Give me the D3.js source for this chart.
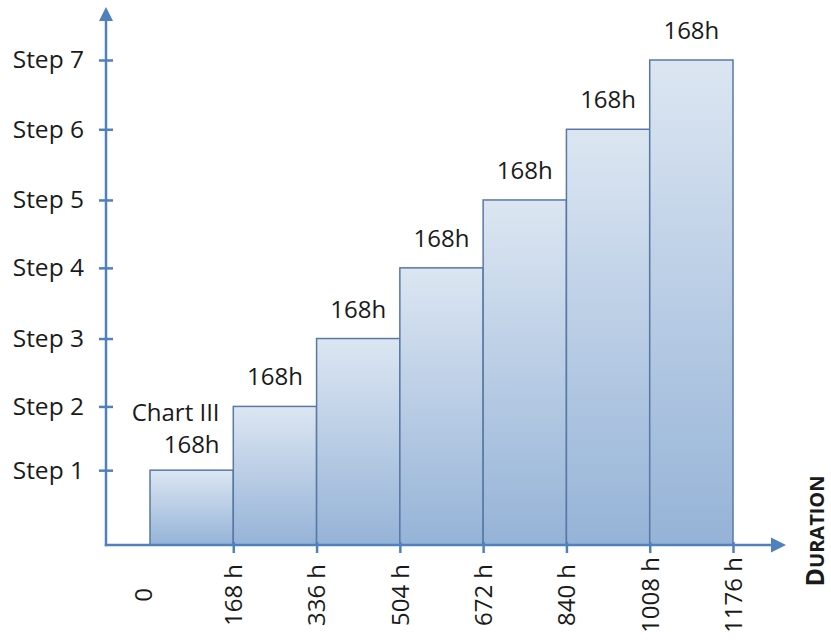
<!DOCTYPE html>
<html>
<head>
<meta charset="utf-8">
<script src="https://cdn.jsdelivr.net/npm/d3@7"></script>
<style>
  body { margin: 0; background: #fff; }
  svg { display: block; font-family: "Open Sans", sans-serif; }
  text { fill: #1a1a1a; }
</style>
</head>
<body>
<svg id="chart" width="831" height="644"></svg>
<script>
// step levels (bar heights), one per step
var stepNames = ["Step 1", "Step 2", "Step 3", "Step 4", "Step 5", "Step 6", "Step 7"];
var stepLevels = [1.08, 2, 2.98, 4, 4.98, 6, 7];
// each step lasts 168 h
var durations = [168, 168, 168, 168, 168, 168, 168];
var durationLabels = ["168h", "168h", "168h", "168h", "168h", "168h", "168h"];
var xTicks = [0, 168, 336, 504, 672, 840, 1008, 1176];
var firstNote = "Chart III";

var svg = d3.select("#chart");
var axisColor = "#4f81bd";
var fontSize = 24;

// scales
var x = d3.scaleLinear().domain([0, 1176]).range([150, 733]);
var y = d3.scaleLinear().domain([0, 7]).range([545, 60]);

// build bars from durations (cumulative start / end)
var bars = [];
var t = 0;
durations.forEach(function(d, i) {
  bars.push({ start: t, end: t + d, level: stepLevels[i], label: durationLabels[i] });
  t += d;
});

// gradient per bar
var defs = svg.append("defs");
var grad = defs.append("linearGradient")
  .attr("id", "barGrad")
  .attr("x1", 0).attr("y1", 0).attr("x2", 0).attr("y2", 1);
grad.append("stop").attr("offset", "0%").attr("stop-color", "#dce6f2");
grad.append("stop").attr("offset", "100%").attr("stop-color", "#95b3d7");

svg.selectAll("rect.bar")
  .data(bars)
  .enter().append("rect")
  .attr("class", "bar")
  .attr("x", function(d) { return x(d.start); })
  .attr("y", function(d) { return y(d.level); })
  .attr("width", function(d) { return x(d.end) - x(d.start); })
  .attr("height", function(d) { return y(0) - y(d.level); })
  .attr("fill", "url(#barGrad)")
  .attr("stroke", "#5878a6")
  .attr("stroke-width", 1.5);

// labels above bars
svg.selectAll("text.dur")
  .data(bars)
  .enter().append("text")
  .attr("class", "dur")
  .attr("x", function(d) { return (x(d.start) + x(d.end)) / 2; })
  .attr("y", function(d, i) { return y(d.level) - (i === 0 ? 17 : 21); })
  .attr("text-anchor", "middle")
  .attr("font-size", fontSize)
  .text(function(d) { return d.label; });

// note above the first bar, right edge lined up with its label
var firstLabel = svg.select("text.dur").node();
var fb = firstLabel.getBBox();
svg.append("text")
  .attr("x", fb.x + fb.width)
  .attr("y", y(bars[0].level) - 49)
  .attr("text-anchor", "end")
  .attr("font-size", fontSize)
  .text(firstNote);

// y axis
var yAxis = d3.axisLeft(y)
  .tickValues(stepLevels)
  .tickFormat(function(d, i) { return stepNames[i]; });

var gy = svg.append("g")
  .attr("transform", "translate(106,0)")
  .call(yAxis);
gy.select(".domain").remove();
gy.selectAll(".tick line")
  .attr("x1", -7).attr("x2", 7)
  .attr("stroke", axisColor).attr("stroke-width", 2.5);
gy.selectAll(".tick text")
  .attr("x", -22)
  .attr("font-family", "Open Sans, sans-serif")
  .attr("font-size", fontSize + 0.5)
  .attr("fill", "#1a1a1a");

// x axis
var xAxis = d3.axisBottom(x)
  .tickValues(xTicks)
  .tickFormat(function(d) { return d === 0 ? "0" : d + " h"; });

var gx = svg.append("g")
  .attr("transform", "translate(0," + y(0) + ")")
  .call(xAxis);
gx.select(".domain").remove();
gx.selectAll(".tick line")
  .attr("y1", -3).attr("y2", 8)
  .attr("stroke", axisColor).attr("stroke-width", 2.5)
  .attr("opacity", function(d) { return d === 0 ? 0 : 1; });
gx.selectAll(".tick text")
  .attr("x", 0).attr("y", 0).attr("dy", "0.35em")
  // the "0" sits a little left of the first bar in the original
  .attr("transform", function(d) {
    return "translate(" + (d === 0 ? -7 : 0) + ",50) rotate(-90)";
  })
  .attr("text-anchor", "middle")
  .attr("font-family", "Open Sans, sans-serif")
  .attr("font-size", fontSize)
  .attr("fill", "#1a1a1a");

// axis lines with arrow heads
svg.append("line")
  .attr("x1", 106).attr("y1", y(0) + 1.2)
  .attr("x2", 106).attr("y2", 20)
  .attr("stroke", axisColor).attr("stroke-width", 2.5);
svg.append("path")
  .attr("d", "M99,21 L106,7 L113,21 Z")
  .attr("fill", axisColor);

svg.append("line")
  .attr("x1", 104.8).attr("y1", y(0))
  .attr("x2", 773).attr("y2", y(0))
  .attr("stroke", axisColor).attr("stroke-width", 2.5);
svg.append("path")
  .attr("d", "M771," + (y(0) - 7.5) + " L786," + y(0) + " L771," + (y(0) + 7.5) + " Z")
  .attr("fill", axisColor);

// axis title, small caps, rotated (kept inside the right edge)
var title = svg.append("text")
  .attr("transform", "translate(824,531) rotate(-90)")
  .attr("text-anchor", "middle")
  .attr("font-weight", "bold");
title.append("tspan").attr("font-size", 25).text("D");
title.append("tspan").attr("font-size", 20).text("URATION");
</script>
</body>
</html>
